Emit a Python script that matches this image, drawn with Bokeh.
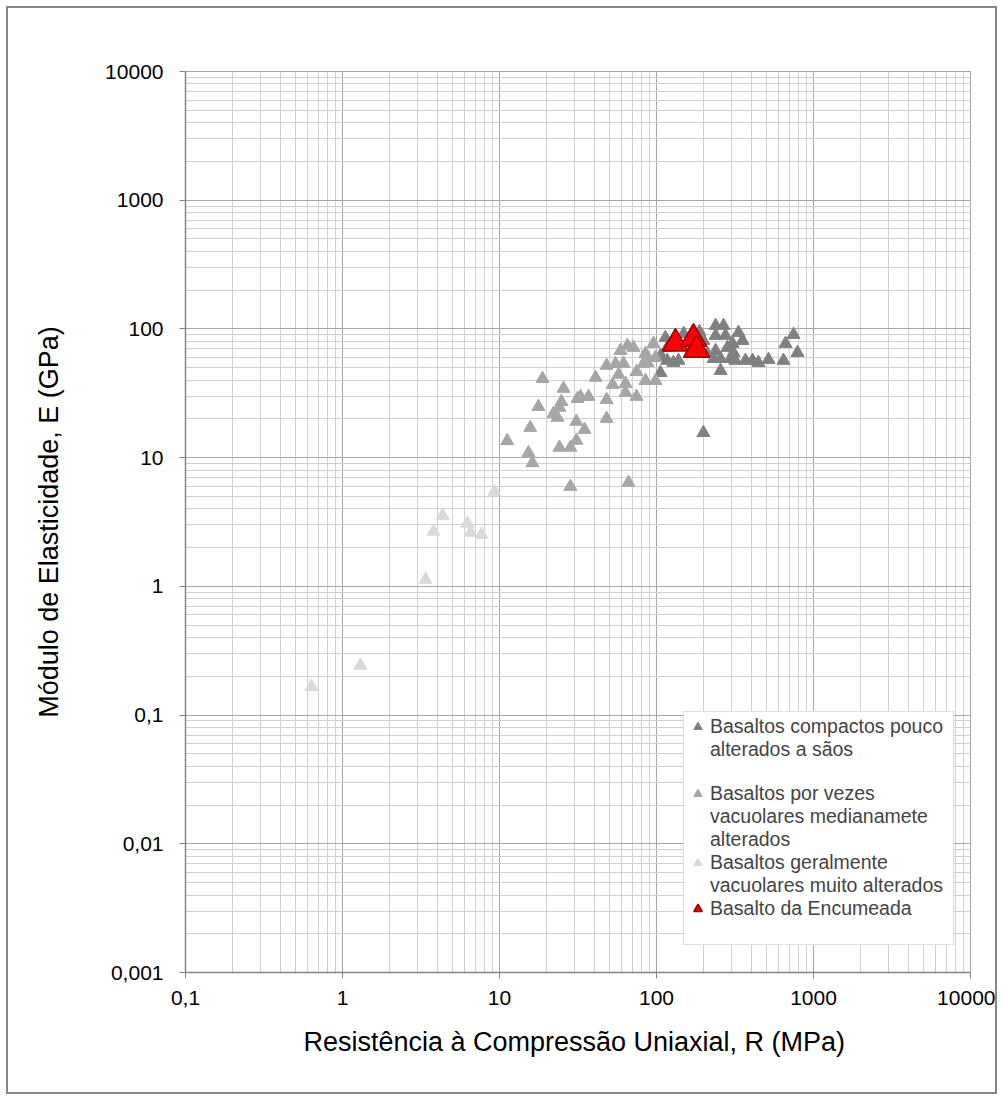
from bokeh.plotting import figure
from bokeh.models import Range1d, FixedTicker, CustomJSTickFormatter, Legend, LegendItem
from bokeh.embed import file_html
from bokeh.resources import INLINE

# ---------------- data ----------------
# Basaltos compactos pouco alterados a sãos (dark grey)
dark_R = [106, 114, 117, 117, 128, 149, 138, 199, 199, 238, 267, 238, 275, 333, 353, 305, 283,
          238, 309, 256, 296, 318, 369, 409, 446, 517, 256, 644, 664, 746, 791, 211, 231, 188,
          106, 109]
dark_E = [45.7, 85.5, 71.6, 56.8, 54.7, 91.8, 56.8, 81.1, 15.6, 106, 106, 88.8, 88.8, 93.6, 81.1,
          76.9, 71.6, 67.8, 65.4, 58.7, 58.7, 56.8, 56.8, 56.8, 54.7, 57.7, 47.4, 56.8, 76.9, 90.3,
          65.4, 64.3, 58.7, 95.2, 62.0, 59.8]

# Basaltos por vezes vacuolares medianamete alterados (medium grey)
med_R = [11.2, 15.3, 16.2, 15.7, 17.7, 18.8, 25.6, 24.8, 24.1, 22.1, 23.4, 30.9, 34.8, 30.9, 28.3,
         24.1, 28.3, 32.8, 36.9, 31.4, 40.9, 48.1, 48.1, 48.1, 54.8, 52.5, 57.3, 63.5, 63.5, 74.6,
         74.6, 59.0, 65.3, 71.4, 66.3, 85.1, 87.7, 85.1, 98.6, 95.7, 98.6, 82.6, 61.7]
med_E = [13.5, 10.9, 9.1, 17.1, 24.9, 41.1, 34.4, 27.2, 24.5, 22.0, 20.5, 19.1, 16.5, 13.6, 12.0,
         12.0, 5.96, 29.8, 29.8, 28.7, 41.9, 28.2, 20.1, 51.9, 53.7, 36.9, 44.2, 37.6, 32.0, 29.8,
         46.5, 67.8, 74.1, 71.6, 6.4, 64.3, 54.7, 39.6, 39.6, 76.9, 59.8, 53.8, 53.8]

# Basaltos geralmente vacuolares muito alterados (light grey)
light_R = [0.635, 1.30, 3.38, 3.80, 4.34, 6.25, 6.54, 7.68, 9.29]
light_E = [0.166, 0.243, 1.13, 2.67, 3.55, 3.08, 2.62, 2.53, 5.45]

# Basalto da Encumeada (red)
enc_R = [132, 172, 180]
enc_E = [77, 84, 69]

x_ticks = [0.1, 1, 10, 100, 1000, 10000]
y_ticks = [0.001, 0.01, 0.1, 1, 10, 100, 1000, 10000]

# legend text, one list of lines per series
legend_lines = [["Basaltos compactos pouco", "alterados a sãos"],
                ["Basaltos por vezes", "vacuolares medianamete", "alterados"],
                ["Basaltos geralmente", "vacuolares muito alterados"],
                ["Basalto da Encumeada"]]

FONT = "Liberation Sans"

p = figure(width=991, height=1088, x_axis_type="log", y_axis_type="log",
           x_range=Range1d(0.1, 10000), y_range=Range1d(0.001, 10000),
           output_backend="svg", toolbar_location=None,
           min_border_left=177, min_border_right=29, min_border_top=63, min_border_bottom=124)
p.styles = {"border": "2px solid #878787", "margin-left": "6px", "margin-top": "6px"}
p.background_fill_color = "white"
p.border_fill_color = "white"
p.outline_line_color = "#a6a6a6"

minor_x = [k * 10.0 ** e for e in range(-1, 4) for k in range(2, 10)]
minor_y = [k * 10.0 ** e for e in range(-3, 4) for k in range(2, 10)]
p.xaxis.ticker = FixedTicker(ticks=x_ticks, minor_ticks=minor_x)
p.yaxis.ticker = FixedTicker(ticks=y_ticks, minor_ticks=minor_y)
fmt = CustomJSTickFormatter(code="return tick.toString().replace('.', ',');")
p.xaxis.formatter = fmt
p.yaxis.formatter = fmt

for ax in (p.xaxis[0], p.yaxis[0]):
    ax.axis_line_color = "#868686"
    ax.axis_line_width = 1.5
    ax.major_tick_line_color = "#868686"
    ax.major_tick_out = 6
    ax.major_tick_in = 0
    ax.minor_tick_out = 0
    ax.minor_tick_in = 0
    ax.major_label_text_font = FONT
    ax.major_label_text_font_size = "21px"
    ax.major_label_text_color = "black"
    ax.axis_label_text_font = FONT
    ax.axis_label_text_font_size = "27px"
    ax.axis_label_text_font_style = "normal"
    ax.axis_label_text_color = "black"

p.xaxis.axis_label = "Resistência  à Compressão Uniaxial, R (MPa)"
p.yaxis.axis_label = "Módulo de Elasticidade, E (GPa)"
p.yaxis.major_label_standoff = 16
p.xaxis.major_label_standoff = 12
p.yaxis.axis_label_standoff = 38
p.xaxis.axis_label_standoff = 19

for g in (p.xgrid[0], p.ygrid[0]):
    g.grid_line_color = "#a6a6a6"
    g.grid_line_width = 1
    g.minor_grid_line_color = "#d0d0d0"
    g.minor_grid_line_width = 1

r_dark = p.scatter(dark_R, dark_E, marker="triangle", size=13, fill_color="#808080",
                   line_color="#808080")
r_med = p.scatter(med_R, med_E, marker="triangle", size=13, fill_color="#a6a6a6",
                  line_color="#a6a6a6")
r_light = p.scatter(light_R, light_E, marker="triangle", size=13, fill_color="#d9d9d9",
                    line_color="#d9d9d9")
r_enc = p.scatter(enc_R, enc_E, marker="triangle", size=26, fill_color="#ff0000",
                  line_color="#990000", line_width=1.5)
# invisible renderer used for the continuation lines of the legend
r_none = p.scatter([], [], marker="triangle", size=1, fill_alpha=0, line_alpha=0)

items = []
renderers = [r_dark, r_med, r_light, r_enc]
for i, (lines, rend) in enumerate(zip(legend_lines, renderers)):
    items.append(LegendItem(label=lines[0], renderers=[rend]))
    for ln in lines[1:]:
        items.append(LegendItem(label=ln, renderers=[r_none]))
    if i in (0, 3):
        items.append(LegendItem(label=" ", renderers=[r_none]))

legend = Legend(items=items, location=(498, 27))
legend.label_text_font = FONT
legend.label_text_font_size = "19.5px"
legend.label_text_line_height = 1.0
legend.label_height = 21
legend.label_width = 240
legend.glyph_width = 21
legend.glyph_height = 21
legend.label_standoff = 2
legend.padding = 3
legend.spacing = 0
legend.border_line_color = "#bfbfbf"
legend.border_line_width = 1
legend.background_fill_color = "white"
legend.background_fill_alpha = 1
legend.margin = 0
p.add_layout(legend, "center")

open("out.html", "w").write(file_html(p, INLINE))
